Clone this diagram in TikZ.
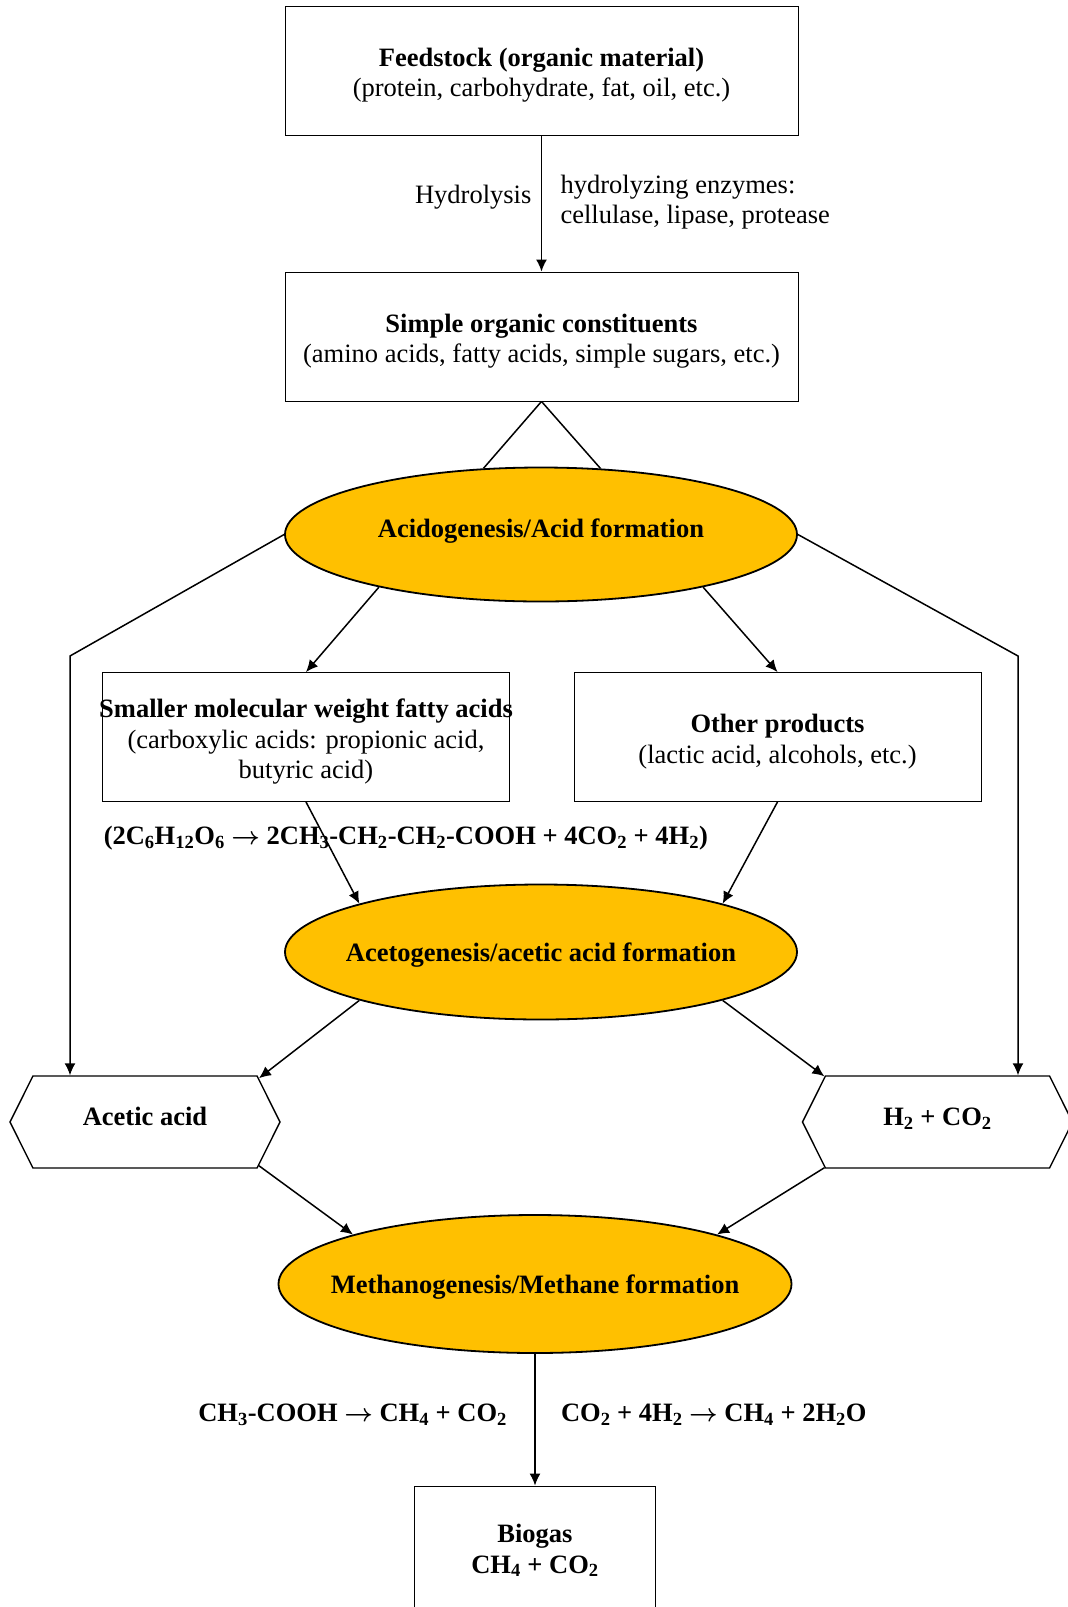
\documentclass[tikz,border=0pt]{standalone}
\usepackage{fontspec}
\setmainfont{Liberation Serif}
\usepackage{tikz}
\usetikzlibrary{arrows.meta,shapes.geometric,shapes.symbols}
\definecolor{phasegold}{HTML}{FFC000}
\newcommand{\fsz}{\fontsize{26.5}{30.5}\selectfont}
\newcommand{\lift}{\rule{0pt}{28pt}}
\newcommand{\yields}{{\boldmath$\rightarrow$}}
\tikzset{
    stagebox/.style args={#1/#2}{draw, line width=0.9pt, rectangle, align=center, minimum width=#1, minimum height=#2, inner sep=0pt, font=\fsz},
    phase/.style={draw, line width=1.8pt, ellipse, fill=phasegold, minimum width=512pt, minimum height=135pt, inner xsep=-150pt, inner ysep=0pt, text height=19pt, text depth=1pt, font=\fsz\bfseries},
    hexa/.style={draw, line width=1.4pt, signal, signal to=west and east, signal pointer angle=127, minimum width=270pt, minimum height=92pt, inner sep=0pt, text height=19pt, text depth=12pt, font=\fsz\bfseries},
    eqn/.style={font=\fsz\bfseries}
}

\begin{document}
\begin{tikzpicture}[x=1pt,y=-1pt,>={Latex[length=12pt,width=11pt]},line width=1.5pt]
\useasboundingbox (0,0) rectangle (1068,1607);
% boxes
\node[stagebox=513pt/129pt] (feed) at (541.5,70.5) {\lift\textbf{Feedstock (organic material)}\\(protein, carbohydrate, fat, oil, etc.)};
\node[stagebox=513pt/129pt] (simple) at (541.5,336.5) {\lift\textbf{Simple organic constituents}\\(amino acids, fatty acids, simple sugars, etc.)};
\node[stagebox=407pt/129pt, inner xsep=-6pt] (fatty) at (306,737) {\lift\textbf{Smaller molecular weight fatty acids}\\(carboxylic acids: propionic acid,\\butyric acid)};
\node[stagebox=407pt/129pt] (other) at (777.5,737) {\lift\textbf{Other products}\\(lactic acid, alcohols, etc.)};
\node[stagebox=241pt/129pt] (biogas) at (535,1550.5) {\textbf{Biogas}\\\textbf{CH\textsubscript{4} + CO\textsubscript{2}}};
% phases
\node[phase, minimum height=134pt, text depth=13pt] (acido) at (541,534.5) {Acidogenesis/Acid formation};
\node[phase] (aceto) at (541,952) {Acetogenesis/acetic acid formation};
\node[phase, minimum width=513pt, minimum height=138pt] (metha) at (535,1284) {Methanogenesis/Methane formation};
% products
\node[hexa] (acetic) at (145,1122) {Acetic acid};
\node[hexa] (gas) at (937.5,1122) {H\textsubscript{2} + CO\textsubscript{2}};
\node[eqn, anchor=west, inner sep=0pt] (butyric) at (103,838) {(2C\textsubscript{6}H\textsubscript{12}O\textsubscript{6} \yields{} 2CH\textsubscript{3}-CH\textsubscript{2}-CH\textsubscript{2}-COOH + 4CO\textsubscript{2} + 4H\textsubscript{2})};
% hydrolysis
\draw[->] (feed) -- node[pos=0.455, anchor=east, xshift=-6pt, font=\fsz] (hydro) {Hydrolysis}
  node[pos=0.49, anchor=west, align=left, xshift=15pt, font=\fsz] (enzyme) {hydrolyzing enzymes:\\cellulase, lipase, protease} (simple);
\draw (simple.south) -- (acido.131.6);
\draw (simple.south) -- (acido.48.4);
% side routes
\coordinate (lbend) at (70,656);
\coordinate (rbend) at (1018,656);
\draw[->] (acido.west) -- (lbend) -- (lbend |- acetic.north);
\draw[->] (acido.east) -- (rbend) -- (rbend |- gas.north);
% acid formation
\draw[->] (acido.198) -- (fatty.north);
\draw[->] (acido.342) -- (other.north);
\draw[->] (fatty.south) -- (aceto.north west);
\draw[->] (other.south) -- (aceto.north east);
% acetic acid formation
\draw[->] (aceto.south west) -- (acetic.21);
\draw[->] (aceto.south east) -- (gas.158);
\draw[->] (acetic.-21) -- (metha.north west);
\draw[->] (gas.-158) -- (metha.north east);
% methane
\draw[->] (metha) -- node[pos=0.46, eqn, anchor=east, xshift=-24pt] (acetoclast) {CH\textsubscript{3}-COOH \yields{} CH\textsubscript{4} + CO\textsubscript{2}}
  node[pos=0.46, eqn, anchor=west, xshift=22pt] (hydroclast) {CO\textsubscript{2} + 4H\textsubscript{2} \yields{} CH\textsubscript{4} + 2H\textsubscript{2}O} (biogas);
\end{tikzpicture}
\end{document}
